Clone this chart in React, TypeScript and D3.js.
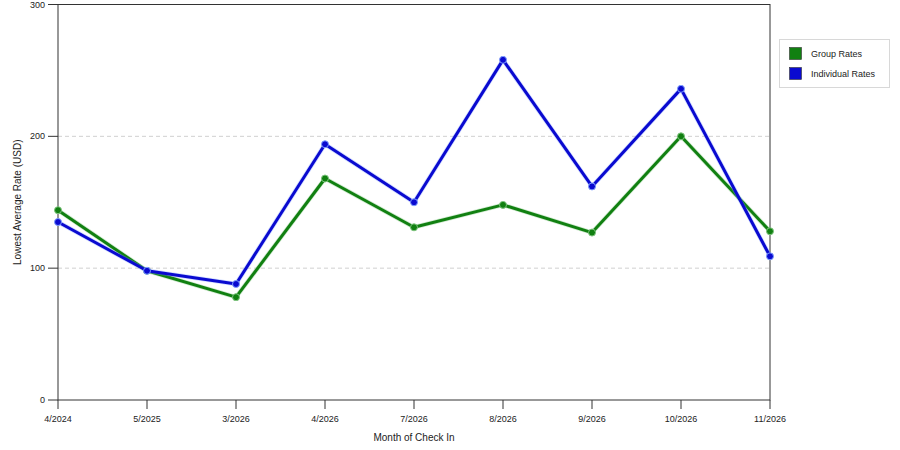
import React from "react";
import * as d3 from "d3";

const months = ["4/2024", "5/2025", "3/2026", "4/2026", "7/2026", "8/2026", "9/2026", "10/2026", "11/2026"];
const groupRates = [144, 98, 78, 168, 131, 148, 127, 200, 128];
const individualRates = [135, 98, 88, 194, 150, 258, 162, 236, 109];
const yTicks = [0, 100, 200, 300];

const W = 900, H = 450;
const left = 58, right = 770, top = 4.5, bottom = 400;
const font = "'Liberation Sans', Arial, sans-serif";

export default function App() {
  const x = d3.scalePoint<string>().domain(months).range([left, right]);
  const y = d3.scaleLinear().domain([0, 300]).range([bottom, top]);
  const line = d3.line<number>().x((_, i) => x(months[i]) as number).y((d) => y(d));
  const series = [
    { name: "Group Rates", values: groupRates, color: "#118011", halo: "#7fc47f" },
    { name: "Individual Rates", values: individualRates, color: "#0a0ad0", halo: "#7f9fff" },
  ];
  return (
    <svg width={W} height={H} style={{ position: "absolute", left: 0, top: 0, background: "#fff" }}>
      {yTicks.filter((t) => t > 0 && t < 300).map((t) => (
        <line key={"g" + t} x1={left} x2={right} y1={y(t)} y2={y(t)} stroke="#d0d0d0" strokeDasharray="4,3" />
      ))}
      <rect x={left} y={top} width={right - left} height={bottom - top} fill="none" stroke="#333" strokeWidth={1} />
      {yTicks.map((t) => (
        <g key={"y" + t}>
          <line x1={48} x2={left} y1={y(t)} y2={y(t)} stroke="#333" />
          <text x={45} y={y(t)} dy="0.35em" textAnchor="end" fontFamily={font} fontSize={9} fill="#222">{t}</text>
        </g>
      ))}
      {months.map((m) => (
        <g key={"x" + m}>
          <line x1={x(m)} x2={x(m)} y1={bottom} y2={bottom + 9} stroke="#333" />
          <text x={x(m)} y={bottom + 22} textAnchor="middle" fontFamily={font} fontSize={9} fill="#222">{m}</text>
        </g>
      ))}
      <text x={414} y={441} textAnchor="middle" fontFamily={font} fontSize={10} fill="#222">Month of Check In</text>
      <text transform={`translate(21,${(top + bottom) / 2}) rotate(-90)`} textAnchor="middle" fontFamily={font} fontSize={10} fill="#222">Lowest Average Rate (USD)</text>
      {series.map((s) => (
        <g key={s.name}>
          <path d={line(s.values) || ""} fill="none" stroke={s.halo} strokeWidth={4.5} strokeOpacity={0.35} strokeLinejoin="round" />
          <path d={line(s.values) || ""} fill="none" stroke={s.color} strokeWidth={3} strokeLinejoin="round" />
          {s.values.map((v, i) => (
            <circle key={i} cx={x(months[i])} cy={y(v)} r={3.5} fill={s.color} stroke={s.halo} strokeWidth={1} />
          ))}
        </g>
      ))}
      <rect x={779.5} y={39.5} width={110} height={48} fill="#fff" stroke="#d8d8d8" />
      {series.map((s, i) => (
        <g key={"l" + s.name}>
          <rect x={789.5} y={47.5 + i * 20} width={12} height={12} fill={s.color} stroke="#333" strokeWidth={0.6} />
          <text x={811} y={54 + i * 20} dy="0.35em" fontFamily={font} fontSize={9} fill="#222">{s.name}</text>
        </g>
      ))}
    </svg>
  );
}
